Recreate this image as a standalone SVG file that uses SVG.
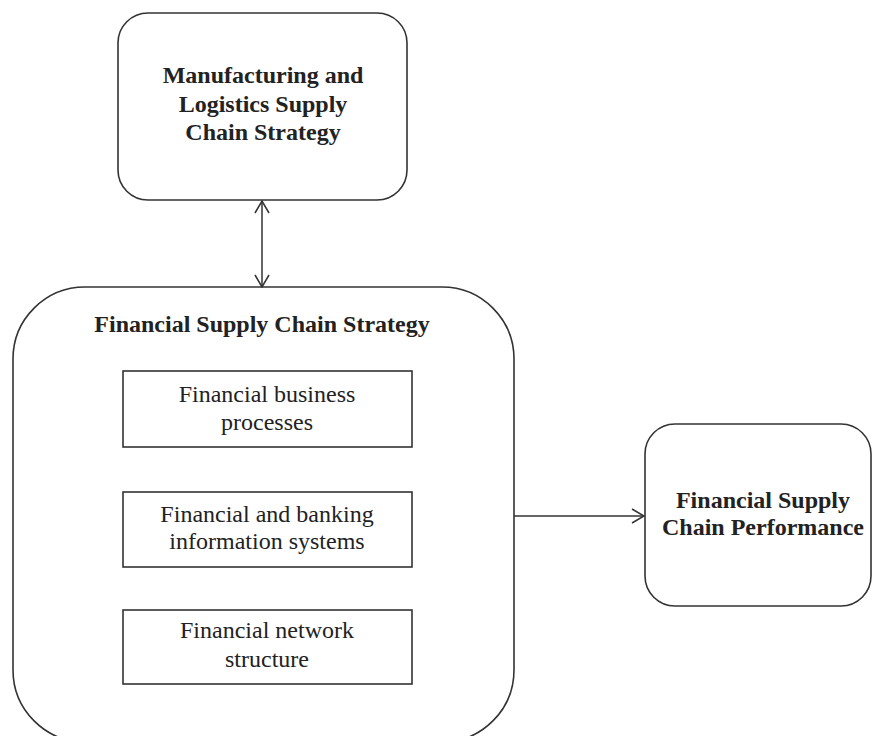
<svg xmlns="http://www.w3.org/2000/svg" width="872" height="736" viewBox="0 0 872 736">
<style>
.box{fill:#fff;stroke:#333;stroke-width:1.6}
.h{font-family:"Liberation Serif","Times New Roman",serif;font-weight:bold;font-size:24px;fill:#222;text-anchor:middle}
.t{font-family:"Liberation Serif","Times New Roman",serif;font-size:24px;fill:#222;text-anchor:middle}
.c{fill:none;stroke:#333;stroke-width:1.5}
</style>
<defs>
<marker id="ah" viewBox="0 0 14 16" refX="13" refY="8" markerWidth="14" markerHeight="16" markerUnits="userSpaceOnUse" orient="auto-start-reverse">
<path d="M1,1 L13,8 L1,15" fill="none" stroke="#333" stroke-width="1.5"/>
</marker>
</defs>
<rect width="872" height="736" fill="#fff"/>
<g id="manufacturing">
<rect class="box" x="118" y="13" width="289" height="187" rx="30" ry="30"/>
<text class="h" x="263" y="83">Manufacturing and</text>
<text class="h" x="263" y="112">Logistics Supply</text>
<text class="h" x="263" y="140">Chain Strategy</text>
</g>
<g id="fscs">
<rect class="box" x="13" y="287" width="501" height="455" rx="72" ry="72"/>
<text class="h" x="262" y="332">Financial Supply Chain Strategy</text>
</g>
<g id="processes">
<rect class="box" x="123" y="371" width="289" height="76"/>
<text class="t" x="267" y="402">Financial business</text>
<text class="t" x="267" y="430">processes</text>
</g>
<g id="systems">
<rect class="box" x="123" y="492" width="289" height="75"/>
<text class="t" x="267" y="522">Financial and banking</text>
<text class="t" x="267" y="549">information systems</text>
</g>
<g id="network">
<rect class="box" x="123" y="610" width="289" height="74"/>
<text class="t" x="267" y="638">Financial network</text>
<text class="t" x="267" y="667">structure</text>
</g>
<g id="performance">
<rect class="box" x="645" y="424" width="226" height="182" rx="30" ry="30"/>
<text class="h" x="763" y="508">Financial Supply</text>
<text class="h" x="763" y="535">Chain Performance</text>
</g>
<g id="connectors">
<line class="c" x1="262" y1="201" x2="262" y2="287" marker-start="url(#ah)" marker-end="url(#ah)"/>
<line class="c" x1="514" y1="516" x2="644" y2="516" marker-end="url(#ah)"/>
</g>
</svg>
